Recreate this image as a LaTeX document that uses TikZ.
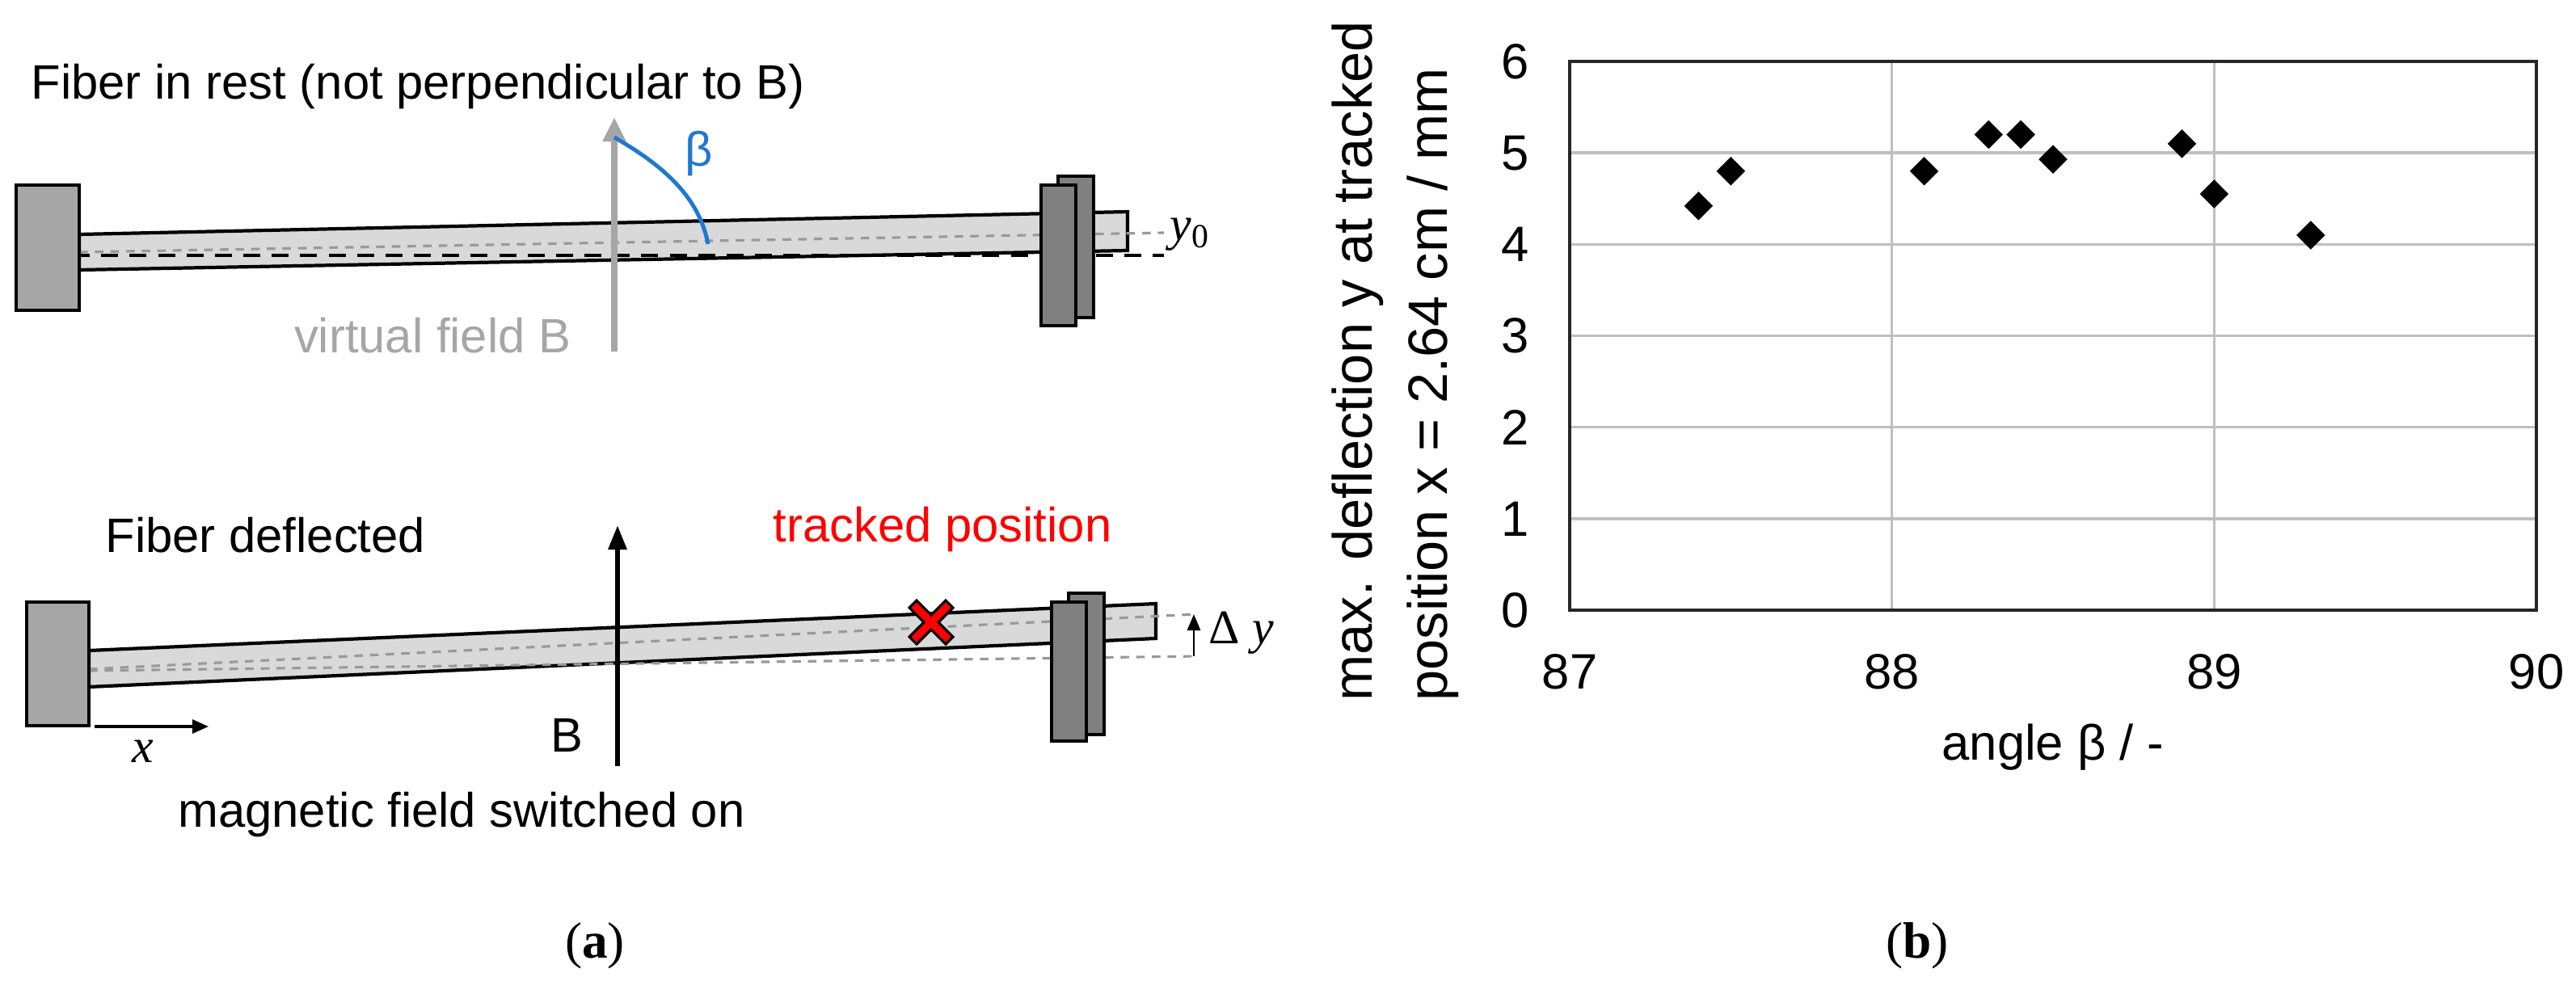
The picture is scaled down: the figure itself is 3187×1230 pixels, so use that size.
\documentclass[tikz,border=0pt]{standalone}
\usepackage{fontspec}
\setmainfont{Liberation Sans}
\newfontfamily\seriffam{Liberation Serif}
\usetikzlibrary{shapes.geometric,arrows.meta}
\definecolor{fibfill}{HTML}{D9D9D9}
\definecolor{clampA}{HTML}{A6A6A6}
\definecolor{clampB}{HTML}{808080}
\definecolor{vgray}{HTML}{A6A6A6}
\definecolor{bblue}{HTML}{1F78D1}
\definecolor{gridc}{HTML}{BFBFBF}
\tikzset{
  txt/.style={font=\fontsize{17}{20}\selectfont, inner sep=0pt},
  tick/.style={font=\fontsize{17.5}{20}\selectfont, inner sep=0pt},
  ylab/.style={font=\fontsize{19.5}{22}\selectfont, inner sep=0pt},
  fiber/.style={draw=black, line width=1.2pt, fill=fibfill},
  clampL/.style={draw=black, line width=1.2pt, fill=clampA},
  clampR/.style={draw=black, line width=1.2pt, fill=clampB},
  dotl/.style={draw=gray!80, line width=0.9pt, dash pattern=on 3pt off 2.5pt},
  dashl/.style={draw=black, line width=1pt, dash pattern=on 6pt off 4pt},
  pt/.style={diamond, fill=black, minimum size=0.36cm, inner sep=0pt},
  subcap/.style={font=\seriffam\fontsize{18}{21}\selectfont, inner sep=0pt}
}
\begin{document}
\begin{tikzpicture}[x=0.01cm,y=-0.01cm]
\useasboundingbox (0,0) rectangle (3187,1230);
% ---------- top panel
\node[txt, anchor=base west] (t1) at (38,123) {Fiber in rest (not perpendicular to B)};
\draw[fiber] (98,290) -- (1395,262) -- (1395,310) -- (98,334) -- cycle;
\draw[dashl] (90,316) -- (1440,316);
\draw[dotl] (98,312) -- (1440,288);
\draw[clampL] (20,229) rectangle (98,384);
\draw[clampR] (1309,218) rectangle (1353,393);
\draw[clampR] (1288,229) rectangle (1331,403);
\node[anchor=west, inner sep=0pt, font=\seriffam\itshape\fontsize{17}{20}\selectfont] (y0) at (1447,290) {y\textsubscript{\upshape 0}};
\coordinate (vb) at (760,435);
\coordinate (vt) at (760,145);
\draw[vgray, line width=2.4pt, -{Triangle[length=0.3cm,width=0.27cm]}] (vb) -- (vt);
\coordinate (ba) at (760,170);
\coordinate (bb) at (876,302);
\draw[bblue, line width=1.4pt] (ba) .. controls (830,210) and (866,250) .. (bb);
\node[txt, text=bblue] (beta) at (865,190) {β};
\node[txt, text=vgray, anchor=east] (vf) at (707,415) {virtual field B};
% ---------- bottom panel
\node[txt, anchor=west] (t2) at (130,662) {Fiber deflected};
\node[txt, anchor=west, text=red] (tp) at (956,655) {tracked position};
\draw[fiber] (110,805) -- (1430,747) -- (1430,790) -- (110,850) -- cycle;
\draw[dotl] (110,828) -- (1480,760);
\draw[dotl] (110,830) -- (1480,812);
\draw[clampL] (33,745) rectangle (110,898);
\draw[clampR] (1322,734) rectangle (1366,909);
\draw[clampR] (1301,745) rectangle (1344,917);
\draw[fill=red, draw=black, line width=0.9pt, shift={(1152,770)}, scale=9]
  (-2,-3) -- (0,-1) -- (2,-3) -- (3,-2) -- (1,0) -- (3,2) -- (2,3) -- (0,1) -- (-2,3) -- (-3,2) -- (-1,0) -- (-3,-2) -- cycle;
\coordinate (dyb) at (1477,812);
\coordinate (dyt) at (1477,760);
\draw[line width=0.8pt, -{Triangle[length=0.2cm,width=0.16cm]}] (dyb) -- (dyt);
\node[anchor=west, inner sep=0pt, font=\seriffam\fontsize{17}{20}\selectfont] (dy) at (1495,783) {Δ \itshape y};
\coordinate (Bb) at (764,948);
\coordinate (Bt) at (764,650);
\draw[line width=1.7pt, -{Triangle[length=0.3cm,width=0.22cm]}] (Bb) -- (Bt);
\node[txt] (Bl) at (701,910) {B};
\coordinate (xa) at (117,899);
\coordinate (xb) at (258,899);
\draw[line width=0.9pt, -{Triangle[length=0.2cm,width=0.17cm]}] (xa) -- (xb);
\node[inner sep=0pt, font=\seriffam\itshape\fontsize{17}{20}\selectfont] (xl) at (177,930) {x};
\node[txt] (mf) at (571,1008) {magnetic field switched on};
% ---------- chart
\begin{scope}[shift={(1942,755)}, xscale=398.67, yscale=-113.17]
  \foreach \v in {1,...,5} \draw[gridc, line width=1pt] (0,\v) -- (3,\v);
  \foreach \u in {1,2} \draw[gridc, line width=1pt] (\u,0) -- (\u,6);
  \draw[black!85, line width=1.1pt] (0,0) rectangle (3,6);
  \foreach \u/\l in {0/87,1/88,2/89,3/90} \node[tick] at (\u,-0.67) {\l};
  \foreach \v in {0,...,6} \node[tick, anchor=east] at (-0.125,\v) {\v};
  \foreach \b/\d in {0.4/4.42, 0.5/4.8, 1.1/4.8, 1.3/5.2, 1.4/5.2, 1.5/4.93, 1.9/5.1, 2.0/4.55, 2.3/4.1}
    \node[pt] at (\b,\d) {};
\end{scope}
\node[tick] (xlab) at (2540,925) {angle β / -};
\node[ylab, rotate=90, anchor=base west] (yl1) at (1697,868) {max. deflection y at tracked};
\node[ylab, rotate=90, anchor=base west] (yl2) at (1790,868) {position x = 2.64 cm / mm};
% ---------- captions
\node[subcap] (ca) at (736,1170) {(\textbf{a})};
\node[subcap] (cb) at (2372,1170) {(\textbf{b})};
\end{tikzpicture}
\end{document}
